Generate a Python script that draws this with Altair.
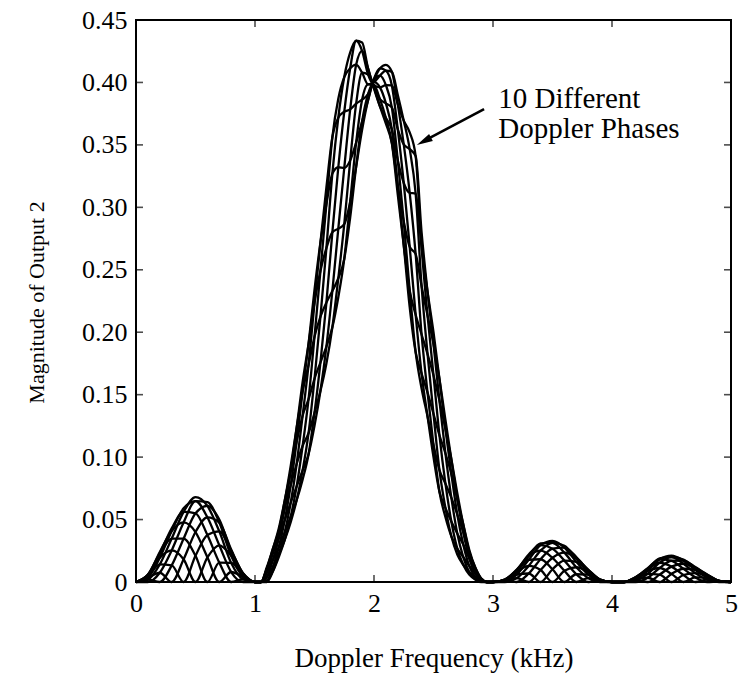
import altair as alt
import pandas as pd

# ---------------- data ----------------
freq_khz = [0.0, 0.1, 0.2, 0.3, 0.4, 0.5, 0.6, 0.7, 0.8, 0.9, 1.0,
            1.05, 1.1, 1.15, 1.2, 1.25, 1.3, 1.35, 1.4, 1.45, 1.5, 1.55, 1.6, 1.65, 1.7,
            1.75, 1.8, 1.85, 1.9, 1.95, 2.0, 2.05, 2.1, 2.15, 2.2, 2.25, 2.3, 2.35, 2.4,
            2.45, 2.5, 2.55, 2.6, 2.65, 2.7, 2.75, 2.8, 2.85, 2.9, 2.95,
            3.0, 3.1, 3.2, 3.3, 3.4, 3.5, 3.6, 3.7, 3.8, 3.9, 4.0,
            4.1, 4.2, 4.3, 4.4, 4.5, 4.6, 4.7, 4.8, 4.9, 5.0]

phase_01 = [0, .0057, .0194, .0253, .0182, 0, .0198, .0294, .021, .0067, 0,
            0, .0109, .0231, .0351, .0495, .0635, .0766, .0894, .1023, .125, .1531, .1885, .233, .2829,
            .3315, .3784, .4142, .4253, .4113, .395, .3808, .3715, .3624, .3376, .3195, .3116, .311, .2681,
            .2324, .2, .1627, .1226, .0866, .0541, .03, .0129, .0041, .0003, 0,
            0, .0019, .0081, .0129, .0096, 0, .009, .0118, .0081, .0019, 0,
            0, .0032, .0065, .0059, 0, .0056, .0071, .0049, .001, 0]
phase_02 = [0, .0049, .0141, .0133, 0, .021, .0376, .0405, .0247, .007, 0,
            0, .0079, .0175, .0279, .0398, .0523, .0655, .082, .1023, .1354, .1758, .2237, .28, .3321,
            .3765, .4114, .4334, .432, .4113, .3958, .3866, .3832, .38, .3624, .3504, .3466, .341, .28,
            .2324, .1905, .1454, .1031, .0675, .0389, .02, .0079, .0022, 0, 0,
            0, .0016, .0059, .0068, 0, .0102, .0171, .0162, .0095, .002, 0,
            0, .0024, .0034, 0, .0065, .0106, .0097, .0057, .001, 0]
phase_03 = [0, .0035, .0074, 0, .0182, .04, .0518, .0476, .026, .0067, 0,
            0, .0041, .0119, .0222, .0338, .048, .0655, .0894, .1192, .1627, .2125, .2673, .327, .3718,
            .4043, .424, .4334, .4253, .4064, .3978, .396, .3978, .3976, .3824, .3694, .36, .341, .2681,
            .2134, .1655, .1175, .0789, .0484, .0267, .0138, .006, .0022, .0003, 0,
            0, .0012, .0031, 0, .0096, .0194, .0235, .019, .01, .0019, 0,
            0, .0012, 0, .0059, .0123, .0146, .0114, .006, .001, 0]
phase_04 = [0, .0019, 0, .0133, .0347, .055, .0609, .05, .0247, .0057, 0,
            0, .0011, .0085, .02, .0338, .0523, .0766, .1089, .1465, .1963, .2492, .3025, .3561, .387,
            .4043, .4114, .4142, .4078, .3985, .4002, .4054, .4095, .4085, .39, .3694, .3466, .311, .2368,
            .1825, .1346, .0896, .0594, .0366, .022, .0138, .0079, .0041, .001, 0,
            0, .0006, 0, .0068, .0182, .0267, .0276, .02, .0095, .0016, 0,
            0, 0, .0034, .0112, .017, .0171, .012, .0057, .0008, 0]
phase_05 = [0, 0, .0074, .0253, .0477, .0647, .064, .0476, .021, .0041, 0,
            0, 0, .0085, .0222, .0398, .0635, .0945, .1331, .1738, .2236, .2719, .316, .3561, .3718,
            .3765, .3784, .383, .3862, .3906, .4022, .4112, .414, .4085, .3824, .3504, .3116, .2625, .1982,
            .1516, .1096, .0723, .052, .0366, .0267, .02, .0129, .007, .002, 0,
            0, 0, .0031, .0129, .0251, .0314, .029, .019, .0081, .0012, 0,
            0, .0012, .0065, .0154, .02, .018, .0114, .0049, .0006, 0]
phase_06 = [0, .0019, .0141, .0348, .0561, .068, .0609, .0405, .0153, .0022, 0,
            0, .0011, .0119, .0279, .0495, .0775, .1124, .1526, .1907, .234, .2719, .3025, .327, .3321,
            .3315, .3376, .3518, .3687, .3857, .403, .4112, .4095, .3976, .3624, .3195, .2684, .214, .1669,
            .1326, .1, .0723, .0594, .0484, .0389, .03, .0191, .0099, .0027, 0,
            0, .0006, .0059, .0178, .0295, .033, .0276, .0162, .0059, .0006, 0,
            0, .0024, .0089, .0181, .021, .0171, .0097, .0035, .0003, 0]
phase_07 = [0, .0035, .0194, .0409, .059, .0647, .0518, .0294, .008, 0, 0,
            0, .0041, .0175, .0351, .0592, .0887, .1235, .16, .1907, .2236, .2492, .2673, .28, .2829,
            .2865, .3046, .3326, .362, .3857, .4022, .4054, .3978, .38, .3376, .2886, .2334, .184, .155,
            .1326, .1096, .0896, .0789, .0675, .0541, .04, .0241, .0118, .003, 0,
            0, .0012, .0081, .0209, .031, .0314, .0235, .0118, .0031, 0, 0,
            0, .0032, .0105, .019, .02, .0146, .0071, .0019, 0, 0]
phase_08 = [0, .0049, .0228, .043, .0561, .055, .0376, .0155, 0, .0022, 0,
            0, .0079, .0231, .0408, .0652, .093, .1235, .1526, .1738, .1963, .2125, .2237, .233, .2432,
            .2587, .292, .3326, .3687, .3906, .4002, .396, .3832, .3624, .3176, .2696, .22, .184, .1669,
            .1516, .1346, .1175, .1031, .0866, .0663, .0462, .026, .0118, .0027, 0,
            0, .0016, .0095, .022, .0295, .0267, .0171, .0062, 0, .0006, 0,
            0, .0038, .011, .0181, .017, .0106, .0037, 0, .0003, 0]
phase_09 = [0, .0057, .024, .0409, .0477, .04, .0198, 0, .008, .0041, 0,
            0, .0109, .0265, .043, .0652, .0887, .1124, .1331, .1465, .1627, .1758, .1885, .2039, .228,
            .2587, .3046, .3518, .3862, .3985, .3978, .3866, .3715, .3515, .31, .2696, .2334, .214, .1982,
            .1825, .1655, .1454, .1226, .0984, .071, .0462, .0241, .0099, .002, 0,
            0, .0019, .01, .0209, .0251, .0194, .009, 0, .0031, .0012, 0,
            0, .004, .0105, .0154, .0123, .0056, 0, .0019, .0006, 0]
phase_10 = [0, .006, .0228, .0348, .0347, .021, 0, .0155, .0153, .0057, 0,
            0, .012, .0265, .0408, .0592, .0775, .0945, .1089, .1192, .1354, .1531, .175, .2039, .2432,
            .2865, .3376, .383, .4078, .4064, .3958, .3808, .367, .3515, .3176, .2886, .2684, .2625, .2368,
            .2134, .1905, .1627, .13, .0984, .0663, .04, .0191, .007, .001, 0,
            0, .002, .0095, .0178, .0182, .0102, 0, .0062, .0059, .0016, 0,
            0, .0038, .0089, .0112, .0065, 0, .0037, .0035, .0008, 0]

phases = [phase_01, phase_02, phase_03, phase_04, phase_05,
          phase_06, phase_07, phase_08, phase_09, phase_10]

x_ticks = [0, 1, 2, 3, 4, 5]
y_ticks = [0, 0.05, 0.10, 0.15, 0.20, 0.25, 0.30, 0.35, 0.40, 0.45]

note_lines = ["10 Different", "Doppler Phases"]

# ---------------- build table ----------------
rows = []
for i, vals in enumerate(phases):
    assert len(vals) == len(freq_khz), (i, len(vals))
    for f, v in zip(freq_khz, vals):
        rows.append({"freq": f, "mag": v, "phase": f"Phase {i + 1}"})
df = pd.DataFrame(rows)

W, H = 595, 562
FONT = "Liberation Serif"
xs = alt.Scale(domain=[0, 5], nice=False, zero=False)
ys = alt.Scale(domain=[0, 0.45], nice=False)

x_axis = alt.Axis(values=x_ticks, title="Doppler Frequency (kHz)",
                  labelFontSize=26, labelPadding=8, labelFlush=False,
                  titleFontSize=27, titleY=84, titleBaseline="alphabetic")
y_axis = alt.Axis(values=y_ticks, title="Magnitude of Output 2",
                  labelExpr="datum.value == 0 ? '0' : format(datum.value, '.2f')",
                  labelFontSize=26, labelPadding=9, labelFlush=False,
                  titleFontSize=22,
                  titleAngle=270, titleX=-100, titleY=282,
                  titleBaseline="middle", titleAlign="center")

lines = alt.Chart(df).mark_line(
    color="black", strokeWidth=2.3, interpolate="monotone"
).encode(
    x=alt.X("freq:Q", scale=xs, axis=x_axis),
    y=alt.Y("mag:Q", scale=ys, axis=y_axis),
    detail="phase:N",
)

xt = pd.DataFrame({"freq": x_ticks})
yt = pd.DataFrame({"mag": y_ticks})
tick_style = dict(color="black", thickness=1.6, size=7)
bottom_ticks = alt.Chart(xt).mark_tick(orient="vertical", **tick_style).encode(
    x=alt.X("freq:Q", scale=xs, axis=x_axis), y=alt.value(H - 3.5))
top_ticks = alt.Chart(xt).mark_tick(orient="vertical", **tick_style).encode(
    x=alt.X("freq:Q", scale=xs, axis=x_axis), y=alt.value(3.5))
left_ticks = alt.Chart(yt).mark_tick(orient="horizontal", **tick_style).encode(
    y=alt.Y("mag:Q", scale=ys, axis=y_axis), x=alt.value(3.5))
right_ticks = alt.Chart(yt).mark_tick(orient="horizontal", **tick_style).encode(
    y=alt.Y("mag:Q", scale=ys, axis=y_axis), x=alt.value(W - 3.5))

# annotation
note_df = pd.DataFrame({"freq": [3.045, 3.045], "mag": [0.3795, 0.3555], "t": note_lines})
note = alt.Chart(note_df).mark_text(
    align="left", baseline="alphabetic", font=FONT, fontSize=29, color="black"
).encode(x=alt.X("freq:Q", scale=xs, axis=x_axis),
         y=alt.Y("mag:Q", scale=ys, axis=y_axis), text="t:N")

shaft_df = pd.DataFrame({"freq": [2.925, 2.425], "mag": [0.3787, 0.3534]})
shaft = alt.Chart(shaft_df).mark_line(color="black", strokeWidth=2.6).encode(
    x=alt.X("freq:Q", scale=xs, axis=x_axis), y=alt.Y("mag:Q", scale=ys, axis=y_axis))

head_df = pd.DataFrame({"freq": [2.36], "mag": [0.3499]})
head = alt.Chart(head_df).mark_point(
    shape="M0,0L0.5,2L-0.5,2Z", filled=True, color="black", opacity=1,
    size=256, angle=242, strokeWidth=0
).encode(x=alt.X("freq:Q", scale=xs, axis=x_axis),
         y=alt.Y("mag:Q", scale=ys, axis=y_axis))

chart = alt.layer(
    lines, bottom_ticks, top_ticks, left_ticks, right_ticks, shaft, head, note
).properties(
    width=W, height=H,
    padding={"left": 136, "top": 20, "right": 8, "bottom": 94},
    autosize=alt.AutoSizeParams(type="none"),
    background="white",
).configure_view(
    stroke="black", strokeWidth=2
).configure_axis(
    domain=False, ticks=False, grid=False,
    labelFont=FONT, titleFont=FONT, labelColor="black", titleColor="black",
    titleFontWeight="normal",
)

chart.save("out.html", embed_options={"renderer": "svg", "actions": False})
